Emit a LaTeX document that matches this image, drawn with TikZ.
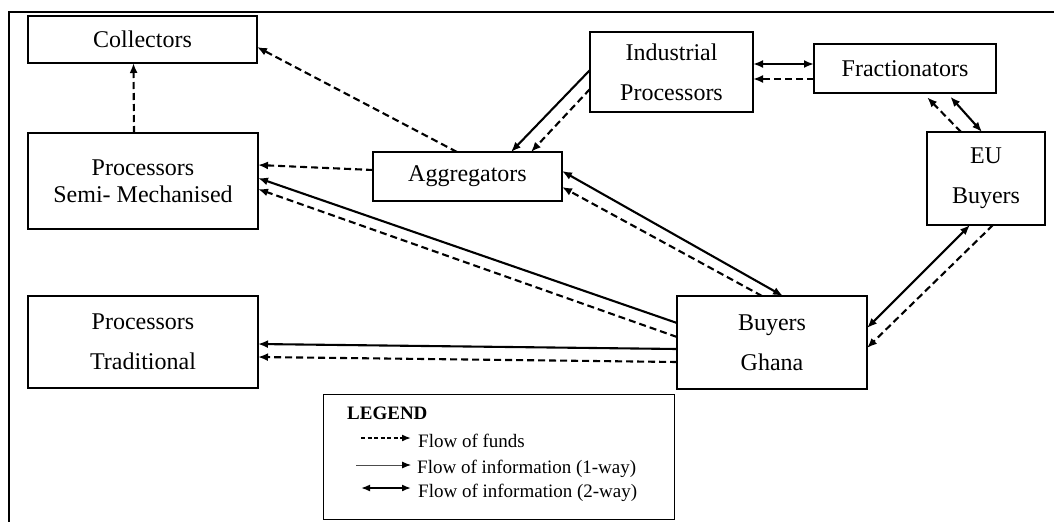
\documentclass[tikz,border=0pt]{standalone}
\usepackage{fontspec}
\setmainfont{Liberation Serif}
\usetikzlibrary{arrows.meta}
\begin{document}
\begin{tikzpicture}[x=1pt,y=-1pt,
  box/.style={draw,line width=2.4pt,rectangle,inner sep=0pt,outer sep=0pt,anchor=north west,align=center,font=\fontsize{24}{40}\selectfont},
  tip/.style={-{Latex[length=10pt,width=8pt]}},
  twotip/.style={{Latex[length=10pt,width=8pt]}-{Latex[length=10pt,width=8pt]}},
  funds/.style={tip,line width=2.1pt,dash pattern=on 7pt off 4pt},
  info/.style={tip,line width=2.1pt},
  info2/.style={twotip,line width=2.1pt},
  legtext/.style={anchor=base west,inner sep=0pt,font=\fontsize{19}{22}\selectfont}
]
\useasboundingbox (0,0) rectangle (1054,522);
\draw[line width=1.8pt] (1054,12) -- (9,12) -- (9,522);

\node[box,minimum width=229pt,minimum height=47pt] (col) at (28,16) {Collectors};
\node[box,minimum width=230pt,minimum height=96pt,font=\fontsize{24}{27}\selectfont] (semi) at (28,133) {Processors\\Semi- Mechanised};
\node[box,minimum width=230pt,minimum height=92pt] (trad) at (28,296) {Processors\\Traditional};
\node[box,minimum width=189pt,minimum height=49pt] (agg) at (373,152) {Aggregators};
\node[box,minimum width=163pt,minimum height=80pt] (ind) at (590,32) {Industrial\\Processors};
\node[box,minimum width=182pt,minimum height=49pt] (frac) at (814,44) {Fractionators};
\node[box,minimum width=118pt,minimum height=93pt] (eu) at (927,132) {EU\\Buyers};
\node[box,minimum width=190pt,minimum height=93pt] (gh) at (677,296) {Buyers\\Ghana};

% connectors
\draw[funds] ([xshift=-10.5pt]agg.north) -- ([yshift=-7.5pt]col.east);
\draw[funds] ([xshift=-9pt]semi.north) -- ([xshift=-9pt]col.south);
\draw[funds] ([yshift=6.5pt]agg.west) -- ([yshift=16pt]semi.east);
\draw[info] ([yshift=19.5pt]gh.west) -- ([yshift=3pt]semi.east);
\draw[funds] ([yshift=5.5pt]gh.west) -- ([yshift=-8pt]semi.east);
\draw[info] ([yshift=-6.5pt]gh.west) -- ([yshift=-2pt]trad.east);
\draw[funds] ([yshift=-19.5pt]gh.west) -- ([yshift=-15pt]trad.east);
\draw[info] ([yshift=2pt]ind.west) -- ([xshift=43.5pt]agg.north);
\draw[funds] ([yshift=-17pt]ind.west) -- ([xshift=63.5pt]agg.north);
\draw[info2] ([yshift=5.5pt]agg.east) -- ([xshift=11pt]gh.north);
\draw[funds] ([xshift=-10pt]gh.north) -- ([yshift=-10.5pt]agg.east);
\draw[info2] ([yshift=8pt]ind.east) -- ([yshift=4.5pt]frac.west);
\draw[funds] ([yshift=-10.5pt]frac.west) -- ([yshift=-7pt]ind.east);
\draw[info2,shorten >=5pt] ([xshift=-4pt]eu.north) -- ([xshift=42pt]frac.south);
\draw[funds,shorten >=6pt] ([xshift=-25pt]eu.north) -- ([xshift=18pt]frac.south);
\draw[info2] ([yshift=14.5pt]gh.east) -- ([xshift=-16pt]eu.south);
\draw[funds] ([xshift=7pt]eu.south) -- ([yshift=-5.5pt]gh.east);

% legend
\node[draw,line width=1.3pt,anchor=north west,minimum width=351pt,minimum height=125pt,inner sep=0pt] (leg) at (323,394) {};
\node[legtext,font=\fontsize{19}{22}\selectfont\bfseries] (legt) at (347,419) {LEGEND};
\node[legtext] (l1) at (418,447) {Flow of funds};
\node[legtext] (l2) at (417,473) {Flow of information (1-way)};
\node[legtext] (l3) at (418,497) {Flow of information (2-way)};
\coordinate (l1a) at (361,438); \coordinate (l1b) at (411,438);
\coordinate (l2a) at (356,465); \coordinate (l2b) at (411,465);
\coordinate (l3a) at (361,488); \coordinate (l3b) at (411,488);
\draw[line width=1.7pt,dash pattern=on 4pt off 2.5pt,-{Latex[length=9pt,width=7pt]}] (l1a) -- (l1b);
\draw[line width=0.9pt,black!70,-{Latex[length=9pt,width=7pt,black]}] (l2a) -- (l2b);
\draw[line width=1.7pt,{Latex[length=9pt,width=7pt]}-{Latex[length=9pt,width=7pt]}] (l3a) -- (l3b);
\end{tikzpicture}
\end{document}
